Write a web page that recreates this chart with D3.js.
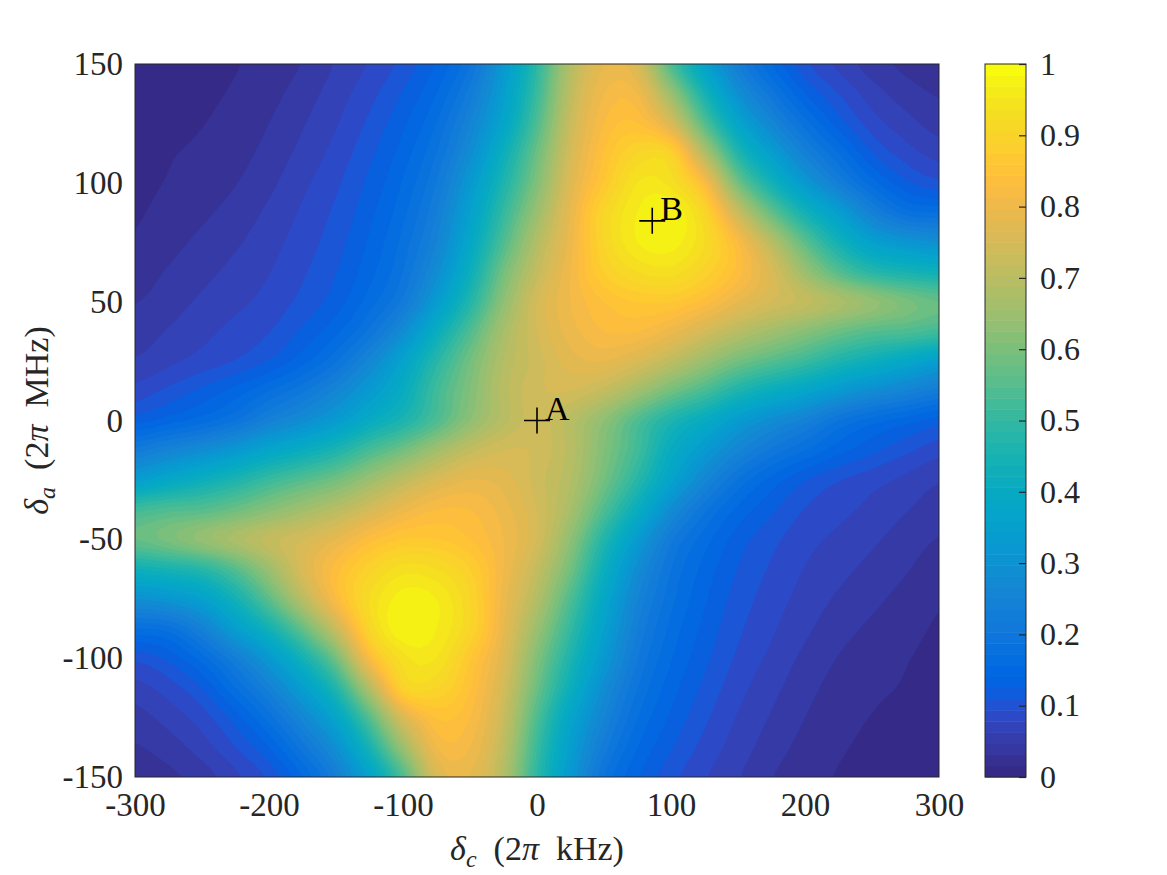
<!DOCTYPE html>
<html><head><meta charset="utf-8">
<script src="https://cdn.jsdelivr.net/npm/d3@7"></script>
<style>body{margin:0;background:#fff} svg{display:block}</style>
</head><body>
<svg id="chart" width="1167" height="875"></svg>
<script>
// detuning grid (columns: delta_c in 2pi kHz, rows: delta_a in 2pi MHz, top to bottom)
const deltaC = [-300,-275,-250,-225,-200,-175,-150,-125,-100,-75,-50,-25,0,25,50,75,100,125,150,175,200,225,250,275,300];
const deltaA = [150,137.5,125,112.5,100,87.5,75,62.5,50,37.5,25,12.5,0,-12.5,-25,-37.5,-50,-62.5,-75,-87.5,-100,-112.5,-125,-137.5,-150];
// normalised signal, one row per deltaA value
const signal = [
[0.012,0.014,0.016,0.019,0.027,0.041,0.062,0.082,0.107,0.143,0.2,0.33,0.5,0.7,0.8,0.77,0.55,0.37,0.24,0.16,0.105,0.075,0.05,0.035,0.028],
[0.013,0.0155,0.0175,0.022,0.033,0.05,0.07,0.093,0.122,0.16,0.23,0.35,0.52,0.72,0.82,0.82,0.66,0.46,0.3,0.21,0.14,0.1,0.07,0.05,0.038],
[0.014,0.017,0.0195,0.026,0.04,0.058,0.078,0.104,0.136,0.18,0.26,0.38,0.55,0.74,0.84,0.86,0.77,0.56,0.38,0.27,0.19,0.13,0.09,0.068,0.052],
[0.015,0.019,0.023,0.032,0.047,0.066,0.087,0.115,0.149,0.2,0.29,0.43,0.59,0.76,0.86,0.92,0.91,0.7,0.48,0.35,0.25,0.18,0.12,0.09,0.072],
[0.016,0.021,0.028,0.039,0.055,0.075,0.096,0.125,0.162,0.22,0.33,0.47,0.62,0.78,0.88,0.96,0.95,0.84,0.6,0.45,0.33,0.24,0.17,0.125,0.105],
[0.018,0.026,0.036,0.048,0.064,0.083,0.104,0.134,0.174,0.24,0.36,0.51,0.66,0.8,0.92,0.98,1.0,0.92,0.74,0.58,0.45,0.35,0.25,0.19,0.18],
[0.022,0.033,0.045,0.057,0.072,0.09,0.111,0.143,0.187,0.26,0.39,0.55,0.7,0.81,0.92,0.98,0.99,0.94,0.84,0.71,0.57,0.45,0.36,0.32,0.3],
[0.029,0.042,0.054,0.066,0.079,0.097,0.119,0.153,0.2,0.29,0.43,0.6,0.73,0.82,0.9,0.94,0.95,0.91,0.85,0.77,0.66,0.56,0.49,0.46,0.44],
[0.039,0.051,0.0635,0.075,0.087,0.106,0.13,0.17,0.225,0.34,0.48,0.64,0.76,0.82,0.86,0.88,0.88,0.85,0.8,0.76,0.73,0.69,0.65,0.61,0.58],
[0.05,0.0615,0.074,0.0865,0.099,0.124,0.155,0.205,0.29,0.42,0.55,0.68,0.76,0.81,0.84,0.84,0.81,0.76,0.71,0.67,0.63,0.59,0.56,0.55,0.53],
[0.062,0.075,0.088,0.101,0.121,0.153,0.197,0.27,0.37,0.49,0.6,0.7,0.75,0.79,0.8,0.77,0.72,0.66,0.6,0.56,0.52,0.47,0.43,0.39,0.35],
[0.088,0.105,0.125,0.148,0.18,0.215,0.265,0.335,0.415,0.53,0.62,0.71,0.755,0.76,0.73,0.67,0.6,0.54,0.47,0.42,0.38,0.33,0.29,0.26,0.23],
[0.13,0.15,0.17,0.2,0.25,0.29,0.34,0.41,0.47,0.55,0.64,0.71,0.75,0.71,0.64,0.55,0.47,0.41,0.34,0.29,0.25,0.2,0.17,0.15,0.13],
[0.23,0.26,0.29,0.33,0.38,0.42,0.47,0.54,0.6,0.67,0.73,0.76,0.755,0.71,0.62,0.53,0.415,0.335,0.265,0.215,0.18,0.148,0.125,0.105,0.088],
[0.35,0.39,0.43,0.47,0.52,0.56,0.6,0.66,0.72,0.77,0.8,0.79,0.75,0.7,0.6,0.49,0.37,0.27,0.197,0.153,0.121,0.101,0.088,0.075,0.062],
[0.53,0.55,0.56,0.59,0.63,0.67,0.71,0.76,0.81,0.84,0.84,0.81,0.76,0.68,0.55,0.42,0.29,0.205,0.155,0.124,0.099,0.0865,0.074,0.0615,0.05],
[0.58,0.61,0.65,0.69,0.73,0.76,0.8,0.85,0.88,0.88,0.86,0.82,0.76,0.64,0.48,0.34,0.225,0.17,0.13,0.106,0.087,0.075,0.0635,0.051,0.039],
[0.44,0.46,0.49,0.56,0.66,0.77,0.85,0.91,0.95,0.94,0.9,0.82,0.73,0.6,0.43,0.29,0.2,0.153,0.119,0.097,0.079,0.066,0.054,0.042,0.029],
[0.3,0.32,0.36,0.45,0.57,0.71,0.84,0.94,0.99,0.98,0.92,0.81,0.7,0.55,0.39,0.26,0.187,0.143,0.111,0.09,0.072,0.057,0.045,0.033,0.022],
[0.18,0.19,0.25,0.35,0.45,0.58,0.74,0.92,1.0,0.98,0.92,0.8,0.66,0.51,0.36,0.24,0.174,0.134,0.104,0.083,0.064,0.048,0.036,0.026,0.018],
[0.105,0.125,0.17,0.24,0.33,0.45,0.6,0.84,0.95,0.96,0.88,0.78,0.62,0.47,0.33,0.22,0.162,0.125,0.096,0.075,0.055,0.039,0.028,0.021,0.016],
[0.072,0.09,0.12,0.18,0.25,0.35,0.48,0.7,0.91,0.92,0.86,0.76,0.59,0.43,0.29,0.2,0.149,0.115,0.087,0.066,0.047,0.032,0.023,0.019,0.015],
[0.052,0.068,0.09,0.13,0.19,0.27,0.38,0.56,0.77,0.86,0.84,0.74,0.55,0.38,0.26,0.18,0.136,0.104,0.078,0.058,0.04,0.026,0.0195,0.017,0.014],
[0.038,0.05,0.07,0.1,0.14,0.21,0.3,0.46,0.66,0.82,0.82,0.72,0.52,0.35,0.23,0.16,0.122,0.093,0.07,0.05,0.033,0.022,0.0175,0.0155,0.013],
[0.028,0.035,0.05,0.075,0.105,0.16,0.24,0.37,0.55,0.77,0.8,0.7,0.5,0.33,0.2,0.143,0.107,0.082,0.062,0.041,0.027,0.019,0.016,0.014,0.012]
];
const xTicks = [-300,-200,-100,0,100,200,300];
const yTicks = [-150,-100,-50,0,50,100,150];
const cbTicks = [0,0.1,0.2,0.3,0.4,0.5,0.6,0.7,0.8,0.9,1];
const markerLabels = ["A","B"];
const markerC = [0,86];
const markerA = [0,84];
// MATLAB parula colormap (64 entries)
const parula = ["#352a87","#363093","#3637a0","#353dad","#3243ba","#2c4ac7","#2053d4","#0f5cdd","#0363e1","#0268e1","#046de0","#0871de","#0d75dc","#1079da","#127dd8","#1481d6","#1485d4","#1389d3","#108ed2","#0c93d2","#0998d1","#079ccf","#06a0cd","#06a4ca","#06a7c6","#07a9c2","#0aacbe","#0faeb9","#15b1b4","#1db3af","#25b5a9","#2eb7a4","#38b99e","#42bb98","#4dbc92","#59bd8c","#65be86","#71bf80","#7cbf7b","#87bf77","#92bf73","#9cbf6f","#a5be6b","#aebe67","#b7bd64","#c0bc60","#c8bc5d","#d1bb59","#d9ba56","#e1b952","#e9b94e","#f1b94a","#f8bb44","#fdbe3d","#ffc337","#fec832","#fcce2e","#fad32a","#f7d826","#f5de21","#f5e41d","#f5eb18","#f6f313","#f9fb0e"];

const svg = d3.select("#chart");
const L = 135, R = 939, T = 64, B = 777;
const x = d3.scaleLinear().domain([-300,300]).range([L,R]);
const y = d3.scaleLinear().domain([-150,150]).range([B,T]);
const color = d3.scaleLinear().domain(parula.map((_,i)=>i/(parula.length-1))).range(parula).clamp(true);

// smooth (bicubic) rendering of the sampled grid, then filled contours
const n = deltaC.length, m = deltaA.length, K = 4;
const N = (n-1)*K+1, M = (m-1)*K+1;
const at = (r,c) => signal[Math.max(0,Math.min(m-1,r))][Math.max(0,Math.min(n-1,c))];
const cub = (p0,p1,p2,p3,t) => p1 + 0.5*t*(p2-p0 + t*(2*p0-5*p1+4*p2-p3 + t*(3*(p1-p2)+p3-p0)));
const fine = new Array(N*M);
for (let j=0;j<M;j++){
  const r = Math.floor(j/K), tr = (j%K)/K;
  for (let i=0;i<N;i++){
    const c = Math.floor(i/K), tc = (i%K)/K;
    const rows = [-1,0,1,2].map(dr => cub(at(r+dr,c-1),at(r+dr,c),at(r+dr,c+1),at(r+dr,c+2),tc));
    fine[j*N+i] = cub(rows[0],rows[1],rows[2],rows[3],tr);
  }
}
const levels = d3.range(0, 1, 0.02);
const contours = d3.contours().size([N, M]).thresholds(levels)(fine);

const gx = d3.scaleLinear().domain([0.5, N-0.5]).range([x(deltaC[0]), x(deltaC[n-1])]);
const gy = d3.scaleLinear().domain([0.5, M-0.5]).range([y(deltaA[0]), y(deltaA[m-1])]);
const path = d3.geoPath(d3.geoTransform({point(px, py){ this.stream.point(gx(px), gy(py)); }}));

svg.append("defs").append("clipPath").attr("id","plotclip")
  .append("rect").attr("x",L).attr("y",T).attr("width",R-L).attr("height",B-T);

const field = svg.append("g").attr("clip-path","url(#plotclip)");
field.append("rect").attr("x",L).attr("y",T).attr("width",R-L).attr("height",B-T).attr("fill",color(0));
field.selectAll("path").data(contours).join("path")
  .attr("d", path)
  .attr("fill", d => color(d.value))
  .attr("stroke", d => color(d.value))
  .attr("stroke-width", 0.5);

svg.append("rect").attr("x",L).attr("y",T).attr("width",R-L).attr("height",B-T)
  .attr("fill","none").attr("stroke","#262626").attr("stroke-width",1);

const font = "'Liberation Serif','DejaVu Serif',serif";
const xa = svg.append("g").attr("transform",`translate(0,${B})`)
  .call(d3.axisBottom(x).tickValues(xTicks).tickSize(0).tickPadding(16).tickFormat(d=>String(d)));
const ya = svg.append("g").attr("transform",`translate(${L},0)`)
  .call(d3.axisLeft(y).tickValues(yTicks).tickSize(0).tickPadding(12).tickFormat(d=>String(d)));
[xa,ya].forEach(g=>{
  g.select(".domain").remove();
  g.selectAll("text").attr("font-family",font).attr("font-size",33).attr("fill","#262626");
});

// markers
const mk = svg.append("g");
markerLabels.forEach((lab,i)=>{
  const cx = x(markerC[i]), cy = y(markerA[i]);
  mk.append("path").attr("d",`M${cx-13},${cy}H${cx+13}M${cx},${cy-13}V${cy+13}`)
    .attr("stroke","#000").attr("stroke-width",1.6).attr("fill","none");
  mk.append("text").attr("x",cx+8).attr("y",cy-1).attr("font-family",font).attr("font-size",34)
    .attr("fill","#000").text(lab);
});

// axis titles
const xt = svg.append("text").attr("x",(L+R)/2).attr("y",860).attr("text-anchor","middle")
  .attr("font-family",font).attr("font-size",34).attr("fill","#262626");
xt.append("tspan").attr("font-style","italic").text("δ");
xt.append("tspan").attr("font-style","italic").attr("font-size",24).attr("dy",7).text("c");
xt.append("tspan").attr("dy",-7).text("\u2002(2");
xt.append("tspan").attr("font-style","italic").text("π");
xt.append("tspan").text("\u2002kHz)");

const yt = svg.append("text").attr("transform",`translate(48,${(T+B)/2}) rotate(-90)`).attr("text-anchor","middle")
  .attr("font-family",font).attr("font-size",34).attr("fill","#262626");
yt.append("tspan").attr("font-style","italic").text("δ");
yt.append("tspan").attr("font-style","italic").attr("font-size",24).attr("dy",7).text("a");
yt.append("tspan").attr("dy",-7).text("\u2002(2");
yt.append("tspan").attr("font-style","italic").text("π");
yt.append("tspan").text("\u2002MHz)");

// colorbar
const cbL = 985, cbR = 1026;
const cb = d3.scaleLinear().domain([0,1]).range([B,T]);
const cbg = svg.append("g");
const nC = parula.length;
cbg.selectAll("rect").data(parula).join("rect")
  .attr("x",cbL).attr("width",cbR-cbL)
  .attr("y",(d,i)=>cb((i+1)/nC)).attr("height",(d,i)=>cb(i/nC)-cb((i+1)/nC)+0.5)
  .attr("fill",d=>d);
cbg.append("rect").attr("x",cbL).attr("y",T).attr("width",cbR-cbL).attr("height",B-T)
  .attr("fill","none").attr("stroke","#262626").attr("stroke-width",1);
const cba = svg.append("g").attr("transform",`translate(${cbR},0)`)
  .call(d3.axisRight(cb).tickValues(cbTicks).tickSizeInner(-7).tickSizeOuter(0).tickPadding(14).tickFormat(d=>String(d)));
cba.select(".domain").remove();
cba.selectAll("line").attr("stroke","#262626").attr("stroke-width",1.2);
cba.selectAll("text").attr("font-family",font).attr("font-size",32).attr("fill","#262626");
</script>
</body></html>
